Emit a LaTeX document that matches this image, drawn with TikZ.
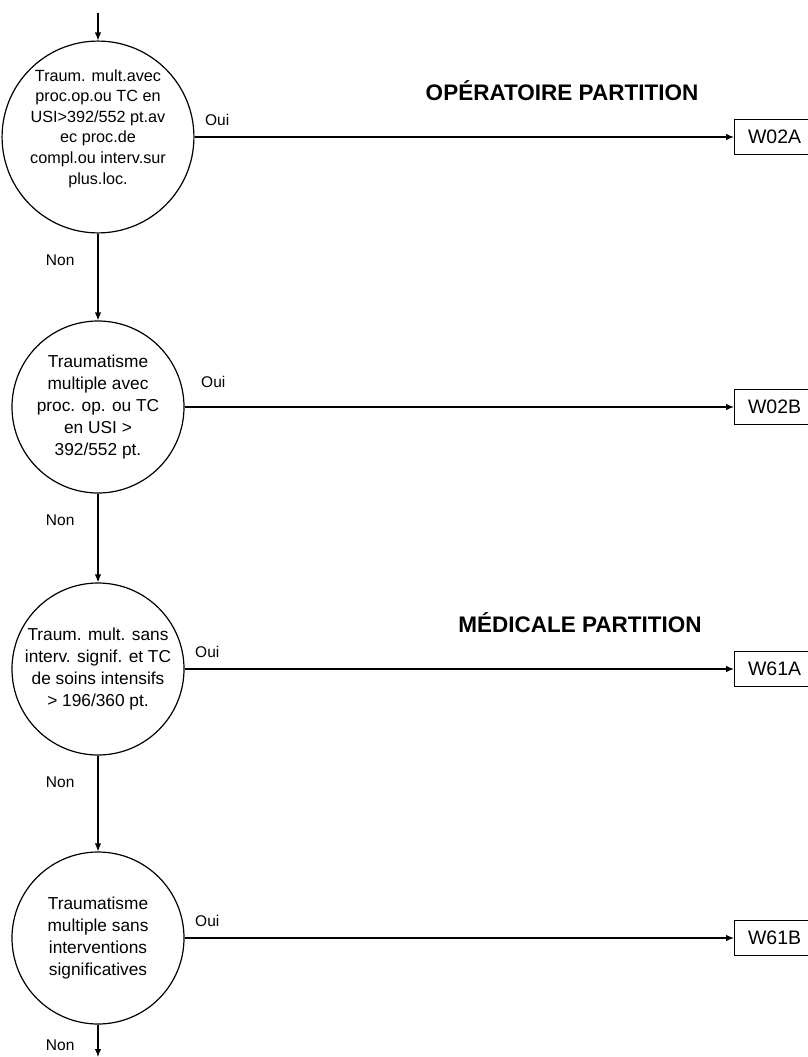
\documentclass[tikz,border=0pt]{standalone}
\usepackage{fontspec}
\setmainfont{Liberation Sans}
\usetikzlibrary{arrows.meta}

\begin{document}
\begin{tikzpicture}[x=1pt,y=-1pt,>={Latex[length=8pt,width=6.5pt]},line width=1.2pt,
    test/.style={circle,draw,minimum size=172pt,inner sep=0pt,align=center,font=\fontsize{17.3}{22}\selectfont},
    grp/.style={rectangle,draw,minimum width=80pt,minimum height=35pt,anchor=west,font=\fontsize{19.5}{22}\selectfont},
    oui/.style={at start,anchor=south west,inner sep=0pt,xshift=10pt,yshift=11pt,font=\fontsize{15.5}{18}\selectfont},
    non/.style={at start,anchor=east,inner sep=0pt,xshift=-23pt,yshift=-27pt,font=\fontsize{15.5}{18}\selectfont},
    part/.style={font=\bfseries\fontsize{22.5}{26}\selectfont}]
                 \useasboundingbox (0,0) rectangle (808,1057);
                 % decision circles
                 \node[test,font=\fontsize{16.2}{20.6}\selectfont](c1)at(98,137){Traum. mult.avec\\proc.op.ou TC en\\USI>392/552 pt.av\\ec proc.de\\compl.ou interv.sur\\plus.loc.\\\mbox{}};
                 \node[test](c2)at(98,407){Traumatisme\\multiple avec\\proc. op. ou TC\\en USI >\\392/552 pt.};
                 \node[test](c3)at(98,669){Traum. mult. sans\\interv. signif. et TC\\de soins intensifs\\> 196/360 pt.};
                 \node[test](c4)at(98,938){Traumatisme\\multiple sans\\interventions\\significatives};
                 % groups
                 \node[grp](w02a)at(734,137){W02A};
                 \node[grp](w02b)at(734,407){W02B};
                 \node[grp](w61a)at(734,669){W61A};
                 \node[grp](w61b)at(734,938){W61B};
                 % partitions
                 \node[part](op)at(562,91){OPÉRATOIRE PARTITION};
                 \node[part](med)at(580,623){MÉDICALE PARTITION};
                 % in and out
                 \coordinate(in)at(98,13);
                 \coordinate(out)at(98,1057);
                 \draw[->](in)--(c1);
                 \draw[->](c1)--node[non]{Non}(c2);
                 \draw[->](c2)--node[non]{Non}(c3);
                 \draw[->](c3)--node[non]{Non}(c4);
                 \draw[->](c4)--node[non,yshift=6pt]{Non}(out);
                 \draw[->](c1)--node[oui]{Oui}(w02a);
                 \draw[->](c2)--node[oui,xshift=6pt,yshift=8pt]{Oui}(w02b);
                 \draw[->](c3)--node[oui]{Oui}(w61a);
                 \draw[->](c4)--node[oui]{Oui}(w61b);
               \end{tikzpicture}
\end{document}
